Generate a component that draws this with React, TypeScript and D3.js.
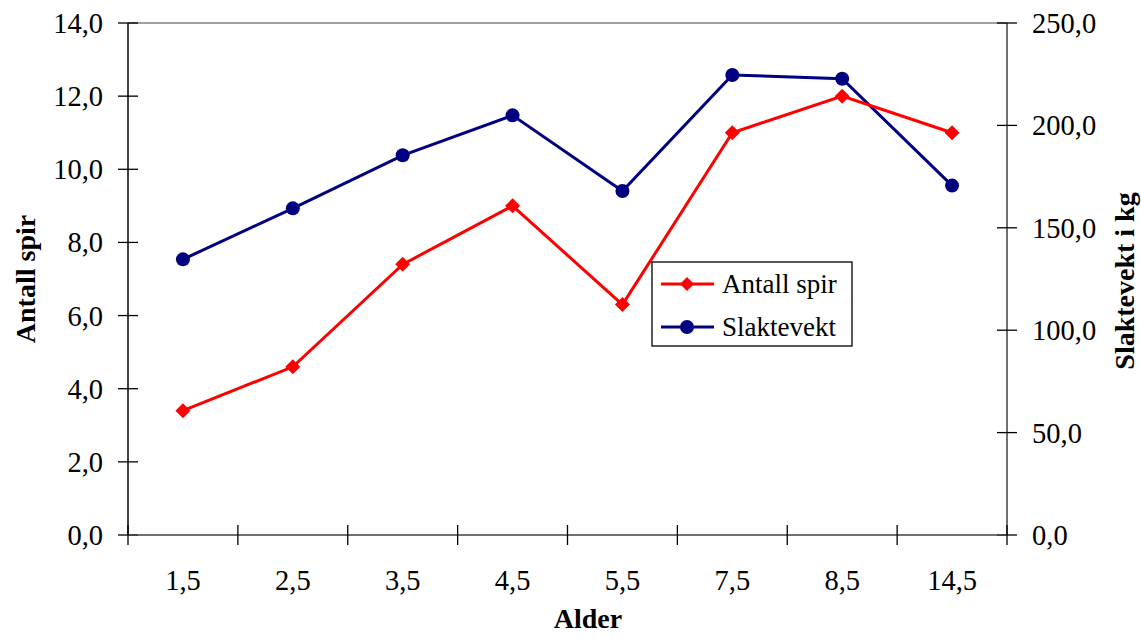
import React from "react";
import * as d3 from "d3";

const categories = ["1,5", "2,5", "3,5", "4,5", "5,5", "7,5", "8,5", "14,5"];
const antallSpir = [3.4, 4.6, 7.4, 9.0, 6.3, 11.0, 12.0, 11.0];
const slaktevekt = [134.6, 159.5, 185.4, 204.9, 168.0, 224.6, 222.8, 170.6];
const leftTicks = [0, 2, 4, 6, 8, 10, 12, 14];
const rightTicks = [0, 50, 100, 150, 200, 250];

const W = 1141;
const H = 637;
const L = 128;
const R = 1007;
const T = 23;
const B = 535;
const FONT = "'Liberation Serif', 'Times New Roman', serif";
const RED = "#ff0000";
const BLUE = "#000080";
const FS = 28.5;

export default function App() {
  const x = d3.scaleBand<string>().domain(categories).range([L, R]);
  const yL = d3.scaleLinear().domain([0, 14]).range([B, T]);
  const yR = d3.scaleLinear().domain([0, 250]).range([B, T]);
  const cx = (c: string) => (x(c) as number) + x.bandwidth() / 2;
  const fmt = (v: number) => v.toFixed(1).replace(".", ",");

  const redLine = d3
    .line<number>()
    .x((_, i) => cx(categories[i]))
    .y((d) => yL(d))(antallSpir) as string;
  const blueLine = d3
    .line<number>()
    .x((_, i) => cx(categories[i]))
    .y((d) => yR(d))(slaktevekt) as string;

  const diamond = (px: number, py: number, s = 7.5) =>
    `M${px},${py - s}L${px + s},${py}L${px},${py + s}L${px - s},${py}Z`;

  const bounds = categories.map((c) => x(c) as number).concat([R]);

  const legX = 652;
  const legY = 262;

  return (
    <svg
      width={W}
      height={H}
      style={{ position: "absolute", left: 0, top: 0, background: "#fff" }}
      fontFamily={FONT}
    >
      {/* plot border top */}
      <line x1={L} x2={R} y1={T} y2={T} stroke="#808080" strokeWidth={1.5} />
      {/* left axis */}
      <line x1={L} x2={L} y1={T} y2={B} stroke="#000" strokeWidth={1.5} />
      {leftTicks.map((t) => (
        <g key={"l" + t}>
          <line x1={L - 10} x2={L + 10} y1={yL(t)} y2={yL(t)} stroke="#000" strokeWidth={1.3} />
          <text x={L - 25} y={yL(t)} dy="0.35em" textAnchor="end" fontSize={FS} fill="#000">
            {fmt(t)}
          </text>
        </g>
      ))}
      {/* right axis */}
      <line x1={R} x2={R} y1={T} y2={B} stroke="#404040" strokeWidth={1.5} />
      {rightTicks.map((t) => (
        <g key={"r" + t}>
          <line x1={R - 10} x2={R + 10} y1={yR(t)} y2={yR(t)} stroke="#000" strokeWidth={1.3} />
          <text x={R + 25} y={yR(t)} dy="0.35em" textAnchor="start" fontSize={FS} fill="#000">
            {fmt(t)}
          </text>
        </g>
      ))}
      {/* x axis */}
      <line x1={L} x2={R} y1={B} y2={B} stroke="#404040" strokeWidth={1.5} />
      {bounds.map((bx, i) => (
        <line key={"xb" + i} x1={bx} x2={bx} y1={B - 10} y2={B + 10} stroke="#000" strokeWidth={1.3} />
      ))}
      {categories.map((c) => (
        <text key={"xl" + c} x={cx(c)} y={590} textAnchor="middle" fontSize={FS} fill="#000">
          {c}
        </text>
      ))}
      {/* axis titles */}
      <text x={588} y={628} textAnchor="middle" fontSize={28} fontWeight="bold">
        Alder
      </text>
      <text
        transform={`translate(35,279) rotate(-90)`}
        textAnchor="middle"
        fontSize={28}
        fontWeight="bold"
      >
        Antall spir
      </text>
      <text
        transform={`translate(1134,281) rotate(-90)`}
        textAnchor="middle"
        fontSize={28}
        fontWeight="bold"
      >
        Slaktevekt i kg
      </text>
      {/* series */}
      <path d={blueLine} fill="none" stroke={BLUE} strokeWidth={3} />
      <path d={redLine} fill="none" stroke={RED} strokeWidth={3} />
      {slaktevekt.map((v, i) => (
        <circle key={"b" + i} cx={cx(categories[i])} cy={yR(v)} r={7} fill={BLUE} />
      ))}
      {antallSpir.map((v, i) => (
        <path key={"d" + i} d={diamond(cx(categories[i]), yL(v))} fill={RED} />
      ))}
      {/* legend */}
      <rect x={legX} y={legY} width={200} height={84} fill="#fff" stroke="#000" strokeWidth={1.3} />
      <line x1={661} x2={714} y1={284} y2={284} stroke={RED} strokeWidth={3} />
      <path d={diamond(687, 284, 7)} fill={RED} />
      <text x={722} y={284} dy="0.35em" fontSize={27}>
        Antall spir
      </text>
      <line x1={661} x2={714} y1={327} y2={327} stroke={BLUE} strokeWidth={3} />
      <circle cx={687} cy={327} r={7} fill={BLUE} />
      <text x={722} y={327} dy="0.35em" fontSize={27}>
        Slaktevekt
      </text>
    </svg>
  );
}
